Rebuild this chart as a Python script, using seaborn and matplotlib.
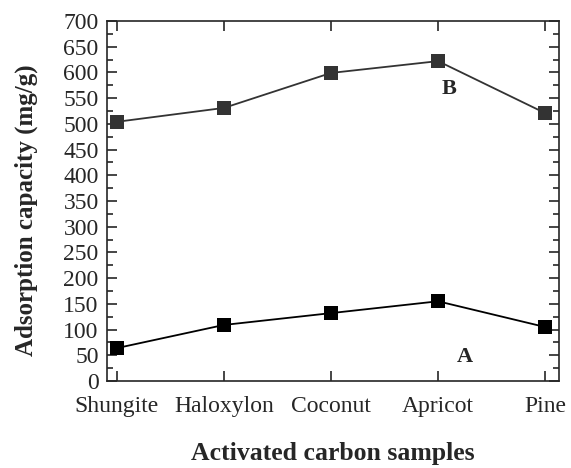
import matplotlib
matplotlib.use("Agg")
import matplotlib.pyplot as plt
import seaborn as sns
import pandas as pd
from matplotlib.ticker import MultipleLocator

samples = ["Shungite", "Haloxylon", "Coconut", "Apricot", "Pine"]
series_A = [64, 109, 132, 155, 105]
series_B = [504, 531, 599, 622, 521]

sns.set_style("ticks")
plt.rcParams['font.family'] = ['Liberation Serif', 'DejaVu Serif']

df = pd.DataFrame({
    "x": list(range(len(samples))) * 2,
    "y": series_A + series_B,
    "s": ["A"] * len(samples) + ["B"] * len(samples),
})

fig = plt.figure(figsize=(5.71, 4.68), dpi=100)
ax = fig.add_axes([107/571, 1 - 381/468, (559-107)/571, (381-21)/468])

sns.lineplot(data=df, x="x", y="y", hue="s", palette={"A": "#000000", "B": "#333333"},
             marker="s", markersize=10, markeredgewidth=0, linewidth=1.3, ax=ax, legend=False)

ax.set_xlim(-0.093, 4.13)
ax.set_ylim(0, 700)
ax.set_xticks(range(len(samples)))
ax.set_xticklabels(samples)
ax.yaxis.set_major_locator(MultipleLocator(50))
ax.yaxis.set_minor_locator(MultipleLocator(25))
ax.tick_params(axis="both", which="both", direction="in", top=True, right=True, labelsize=17, width=1.2)
ax.tick_params(axis="both", which="major", length=7)
ax.tick_params(axis="y", which="major", pad=6)
ax.tick_params(axis="y", which="minor", length=4)
ax.tick_params(axis="x", which="major", pad=11)
for sp in ax.spines.values():
    sp.set_linewidth(1.2)

ax.set_xlabel("Activated carbon samples", fontsize=18.5, fontweight="bold", labelpad=18)
ax.set_ylabel("Adsorption capacity (mg/g)", fontsize=18, fontweight="bold")
ax.yaxis.set_label_coords(-0.152, 0.475)

ax.text(3.1, 567, "B", fontsize=16, fontweight="bold", ha="center", va="center")
ax.text(3.25, 46, "A", fontsize=16, fontweight="bold", ha="center", va="center")

fig.savefig("out.png", dpi=100)
